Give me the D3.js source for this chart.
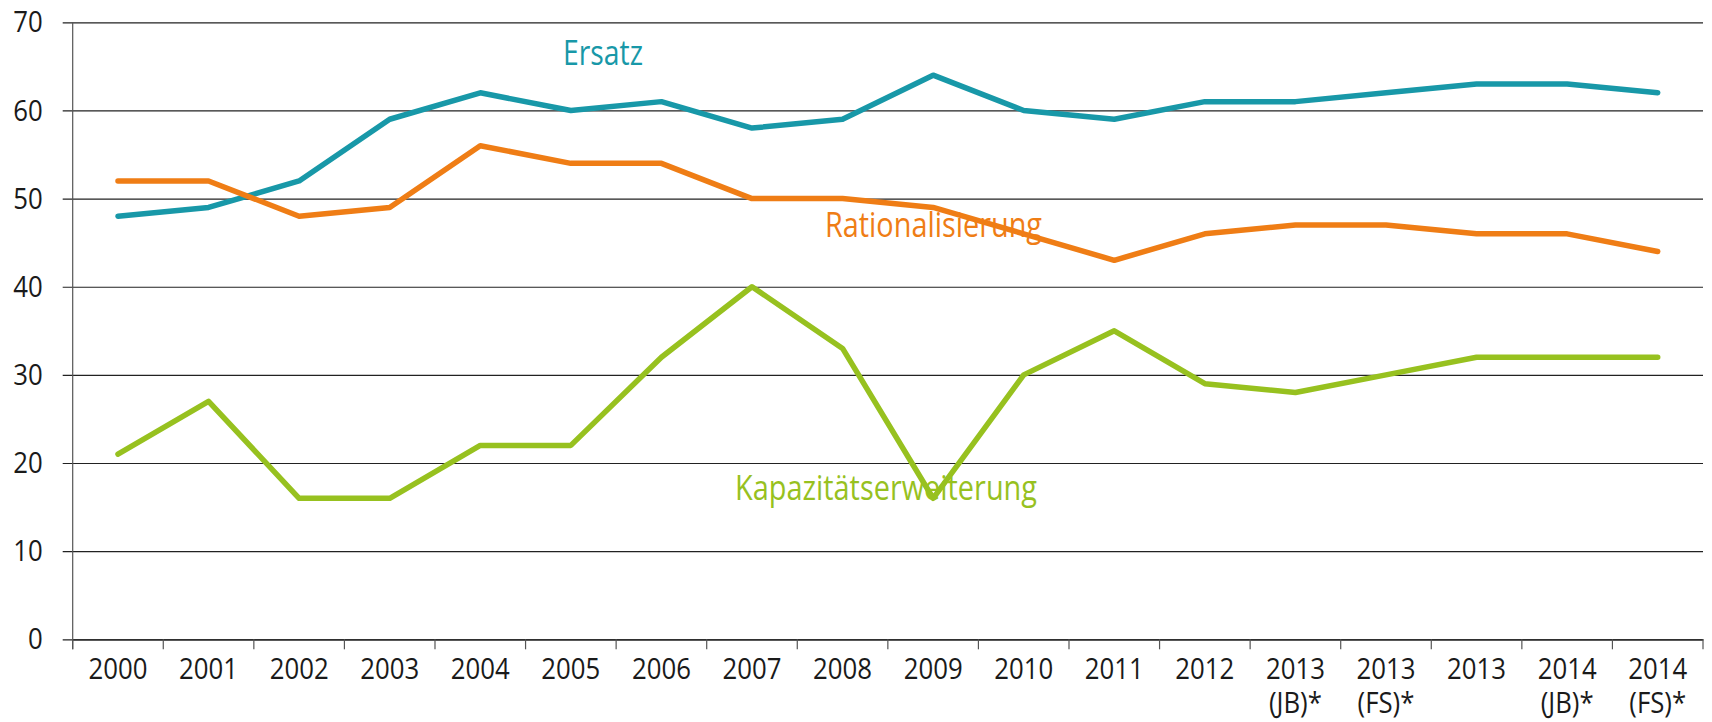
<!DOCTYPE html>
<meta charset="utf-8">
<style>
  body { margin: 0; background: #fff; }
  text { font-family: "Open Sans", sans-serif; }
</style>
<div id="chart"></div>
<script src="https://cdn.jsdelivr.net/npm/d3@7"></script>
<script>

var categories = ["2000", "2001", "2002", "2003", "2004", "2005", "2006", "2007", "2008",
  "2009", "2010", "2011", "2012", "2013|(JB)*", "2013|(FS)*", "2013", "2014|(JB)*", "2014|(FS)*"]

var ersatz = [48, 49, 52, 59, 62, 60, 61, 58, 59, 64, 60, 59, 61, 61, 62, 63, 63, 62]
var rationalisierung = [52, 52, 48, 49, 56, 54, 54, 50, 50, 49, 46, 43, 46, 47, 47, 46, 46, 44]
var kapazitaet = [21, 27, 16, 16, 22, 22, 32, 40, 33, 16, 30, 35, 29, 28, 30, 32, 32, 32]

var yTicks = [0, 10, 20, 30, 40, 50, 60, 70]

var series = [
  {name: "Ersatz", values: ersatz, color: "#1898a8", lx: 563, ly: 65, w: 80},
  {name: "Rationalisierung", values: rationalisierung, color: "#ef7d15", lx: 825, ly: 237, w: 217},
  {name: "Kapazitätserweiterung", values: kapazitaet, color: "#97c11f", lx: 735, ly: 500, w: 302}
]

var width = 1712,
    height = 722,
    margin = {top: 22.3, right: 9, bottom: 82.7, left: 72.7},
    squeeze = 0.86

var svg = d3.select("#chart")
  .append("svg")
    .attr("width", width)
    .attr("height", height)

var x = d3.scaleBand()
  .domain(categories)
  .range([margin.left, width - margin.right])

var y = d3.scaleLinear()
  .domain([0, 70])
  .range([height - margin.bottom, margin.top])

// gridlines + y labels
var yAxis = svg.append("g")
  .attr("transform", "translate(" + margin.left + ",0)")
  .call(d3.axisLeft(y).tickValues(yTicks)
    .tickSizeInner(-(width - margin.right - margin.left)))

yAxis.select(".domain").remove()
yAxis.selectAll(".tick line")
  .attr("x1", -10)
  .attr("stroke", "#222")
  .attr("stroke-width", 1.2)
yAxis.selectAll(".tick text")
  .attr("x", -30 / squeeze)
  .attr("transform", "scale(" + squeeze + ",1)")
  .style("font-size", "30px")
  .attr("fill", "#1a1a1a")

// vertical axis line
svg.append("line")
  .attr("x1", margin.left).attr("x2", margin.left)
  .attr("y1", y(70)).attr("y2", y(0) + 10)
  .attr("stroke", "#555")
  .attr("stroke-width", 1.2)

// x axis
var xAxis = svg.append("g")
  .attr("transform", "translate(0," + y(0) + ")")
  .call(d3.axisBottom(x).tickSize(0).tickFormat(""))
xAxis.select(".domain").attr("stroke", "#222").attr("stroke-width", 1.2)

// category separators
var bounds = categories.map(function(c) { return x(c) }).concat([x.range()[1]])
xAxis.selectAll(".sep")
  .data(bounds)
  .enter()
  .append("line")
    .attr("x1", function(d) { return d })
    .attr("x2", function(d) { return d })
    .attr("y1", 0)
    .attr("y2", 10)
    .attr("stroke", "#555")
    .attr("stroke-width", 1.2)

var labels = svg.append("g")
  .selectAll("g")
  .data(categories)
  .enter()
  .append("g")
    .attr("transform", function(d) {
      return "translate(" + (x(d) + x.bandwidth() / 2) + "," + (y(0) + 40) + ") scale(" + squeeze + ",1)"
    })

labels.each(function(d) {
  var g = d3.select(this)
  d.split("|").forEach(function(p, i) {
    g.append("text")
      .attr("x", 0)
      .attr("y", i * 34)
      .attr("text-anchor", "middle")
      .style("font-size", "30px")
      .attr("fill", "#1a1a1a")
      .text(p)
  })
})

var line = d3.line()
  .x(function(d, i) { return x(categories[i]) + x.bandwidth() / 2 })
  .y(function(d) { return y(d) })

series.forEach(function(s) {
  svg.append("path")
    .datum(s.values)
    .attr("d", line)
    .attr("fill", "none")
    .attr("stroke", s.color)
    .attr("stroke-width", 5.5)
    .attr("stroke-linejoin", "round")
    .attr("stroke-linecap", "round")

  svg.append("text")
    .attr("x", s.lx)
    .attr("y", s.ly)
    .attr("textLength", s.w)
    .attr("lengthAdjust", "spacingAndGlyphs")
    .style("font-size", "34px")
    .attr("fill", s.color)
    .text(s.name)
})

</script>
